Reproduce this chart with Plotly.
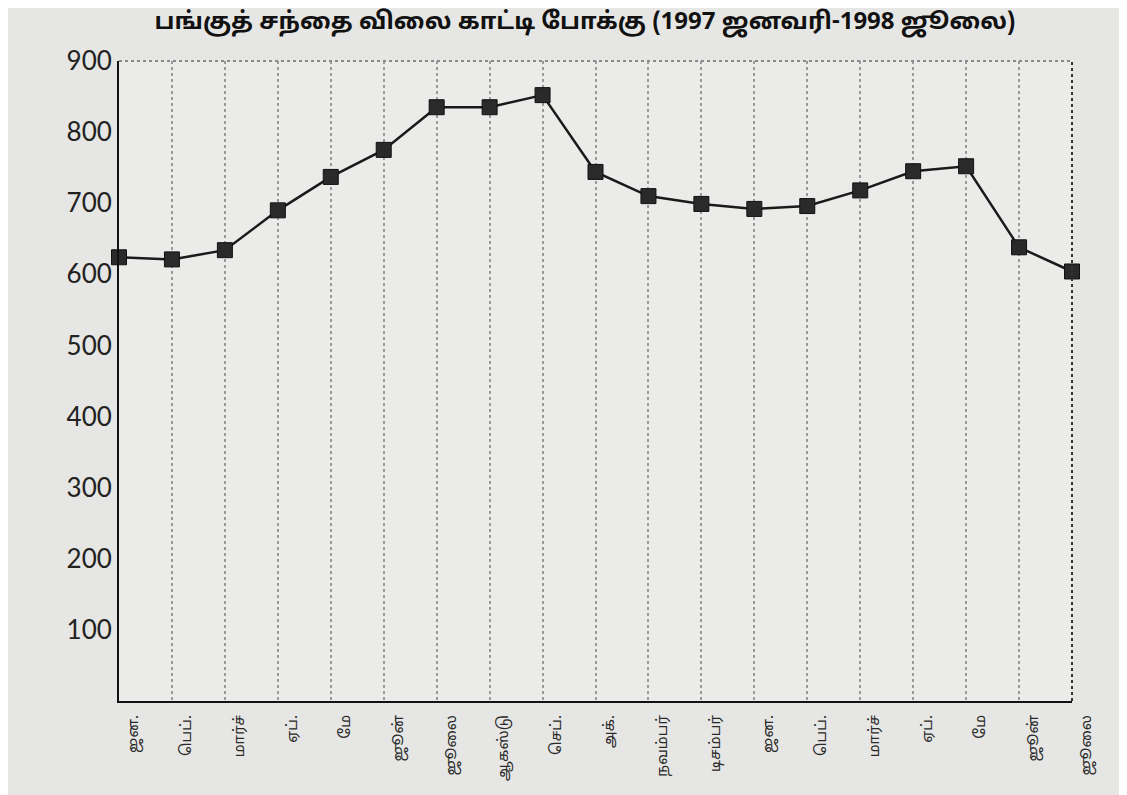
import plotly.graph_objects as go

months = ["ஜன.", "பெப்.", "மார்ச்", "ஏப்.", "மே", "ஜூன்", "ஜூலை", "ஆகஸ்டு", "செப்.",
          "அக்.", "நவம்பர்", "டிசம்பர்", "ஜன.", "பெப்.", "மார்ச்", "ஏப்.", "மே", "ஜூன்", "ஜூலை"]
index_values = [624, 621, 634, 690, 737, 775, 835, 835, 852,
                744, 710, 699, 692, 696, 718, 745, 752, 638, 604]
y_ticks = [100, 200, 300, 400, 500, 600, 700, 800, 900]
title_text = "பங்குத் சந்தை விலை காட்டி போக்கு (1997 ஜனவரி-1998 ஜூலை)"

positions = list(range(len(months)))

fig = go.Figure()
fig.add_trace(go.Scatter(
    x=positions, y=index_values, mode="lines+markers",
    line=dict(color="#1a1a1a", width=2.5),
    marker=dict(symbol="square", size=15, color="#2a2a2a", line=dict(color="#111111", width=1)),
    showlegend=False, cliponaxis=False,
))

# right and top borders
fig.add_shape(type="line", xref="paper", yref="paper", x0=1, x1=1, y0=0, y1=1,
              line=dict(color="#333333", width=2, dash="dot"))
fig.add_shape(type="line", xref="paper", yref="paper", x0=0, x1=1, y0=1, y1=1,
              line=dict(color="#8a8a8a", width=2, dash="dot"))

fig.update_layout(
    width=1127, height=795,
    paper_bgcolor="#e6e6e4", plot_bgcolor="#ebebea",
    margin=dict(l=111, r=63, t=53, b=102),
    title=dict(text=title_text, x=0.512, xanchor="center", y=0.995, yanchor="top",
               font=dict(family="Noto Sans Tamil, Lato, sans-serif", size=24, color="#111111",
                         weight="bold")),
    font=dict(family="Noto Sans Tamil, Lato, sans-serif", color="#111111"),
    xaxis=dict(
        range=[0, len(months) - 1], tickmode="array", tickvals=positions, ticktext=months,
        tickangle=-90, tickfont=dict(size=15, color="#2a2a2a"),
        showgrid=True, gridcolor="#9a9a9a", griddash="dot", gridwidth=1.5,
        showline=True, linecolor="#111111", linewidth=2, zeroline=False,
        ticks="", ticklabelshift=14, ticklabelstandoff=6, automargin=False,
    ),
    yaxis=dict(
        range=[0, 900], tickmode="array", tickvals=y_ticks,
        tickfont=dict(family="Lato, sans-serif", size=26, color="#222222"),
        showgrid=False, showline=True, linecolor="#111111", linewidth=2,
        zeroline=False, ticks="", ticklabelstandoff=0, automargin=False,
    ),
)

fig.write_html("out.html")
